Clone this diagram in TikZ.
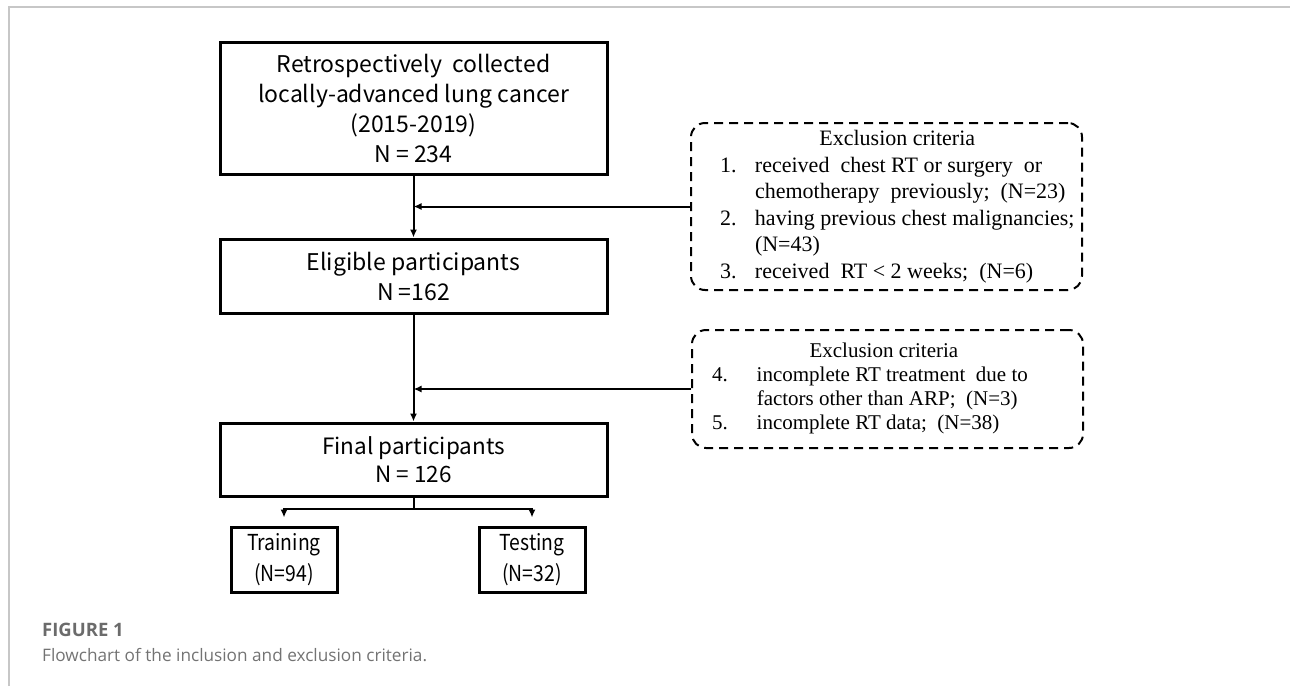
\documentclass[tikz,border=0pt]{standalone}
\usepackage{fontspec}
\usetikzlibrary{arrows.meta}
\setmainfont{Liberation Serif}
\newfontfamily\boxfont{Noto Sans CJK SC}
\newfontfamily\narrowfont[FakeStretch=0.88]{Noto Sans CJK SC}
\newfontfamily\capfont{Open Sans}

\tikzset{
  flowbox/.style={draw,line width=3pt,align=center,inner sep=0pt},
  critbox/.style={draw,line width=2pt,dash pattern=on 9pt off 6pt,rounded corners=14pt,inner sep=0pt},
  link/.style={line width=2pt,-{Latex[length=8pt,width=7pt]}},
}

\begin{document}
\begin{tikzpicture}[x=1pt,y=-1pt]
\useasboundingbox (0,0) rectangle (1290,686);
\draw[black!22,line width=2pt] (9,686) -- (9,7) -- (1290,7);

% main column
\node[flowbox,minimum width=387pt,minimum height=132pt,font=\boxfont\fontsize{23}{30}\selectfont] (collected) at (413.5,108)
  {Retrospectively~ collected\\ locally-advanced lung cancer\\ (2015-2019)\\ N = 234};
\node[flowbox,minimum width=387pt,minimum height=74pt,font=\boxfont\fontsize{23}{30}\selectfont] (eligible) at (413.5,276)
  {Eligible participants\\ N =162};
\node[flowbox,minimum width=387pt,minimum height=73pt,font=\boxfont\fontsize{22.5}{28}\selectfont] (final) at (413.5,459.5)
  {Final participants\\ N = 126};
\node[flowbox,minimum width=106pt,minimum height=65pt,font=\narrowfont\fontsize{22}{31}\selectfont] (training) at (284,559.5)
  {Training\\ (N=94)};
\node[flowbox,minimum width=106pt,minimum height=65pt,font=\narrowfont\fontsize{22}{31}\selectfont] (testing) at (532,559.5)
  {Testing\\ (N=32)};

% exclusion boxes
\node[critbox,minimum width=391pt,minimum height=167pt,font=\fontsize{22}{26.5}\selectfont] (excl1) at (886.5,206.5)
  {\makebox[391pt][l]{\hspace{29pt}\begin{tabular}{@{}l@{\hspace{18.5pt}}l@{}}
   \multicolumn{2}{c}{Exclusion criteria}\\
   1. & received~ chest RT or surgery~ or\\
      & chemotherapy~ previously;~ (N=23)\\
   2. & having previous chest malignancies;\\
      & (N=43)\\
   3. & received~ RT < 2 weeks;~ (N=6)
   \end{tabular}}};
\node[critbox,minimum width=391pt,minimum height=118pt,font=\fontsize{21}{24}\selectfont] (excl2) at (887.5,389)
  {\makebox[391pt][l]{\hspace{20pt}\begin{tabular}{@{}l@{\hspace{29pt}}l@{}}
   \multicolumn{2}{c}{\hspace*{28pt}Exclusion criteria}\\
   4. & incomplete RT treatment~ due to\\
      & factors other than ARP;~ (N=3)\\
   5. & incomplete RT data;~ (N=38)
   \end{tabular}}};

% connectors
\draw[link] (collected) -- (eligible);
\draw[link] (eligible) -- (final);
\draw[link] (excl1.west) -- (excl1.west -| collected.south);
\draw[link] (excl2.west) -- (excl2.west -| eligible.south);
\draw[line width=2pt] (final.south) -- ++(0,11) coordinate (split);
\draw[link,shorten >=8pt] (split) -| (training.north);
\draw[link,shorten >=8pt] (split) -| (testing.north);

% caption
\node[anchor=west,inner sep=0pt,text=black!58,font=\capfont\bfseries\fontsize{18.5}{20}\selectfont] (figlabel) at (42,630) {FIGURE 1};
\node[anchor=west,inner sep=0pt,text=black!55,font=\capfont\fontsize{17.2}{20}\selectfont] (figcaption) at (42,655) {Flowchart of the inclusion and exclusion criteria.};
\end{tikzpicture}
\end{document}
